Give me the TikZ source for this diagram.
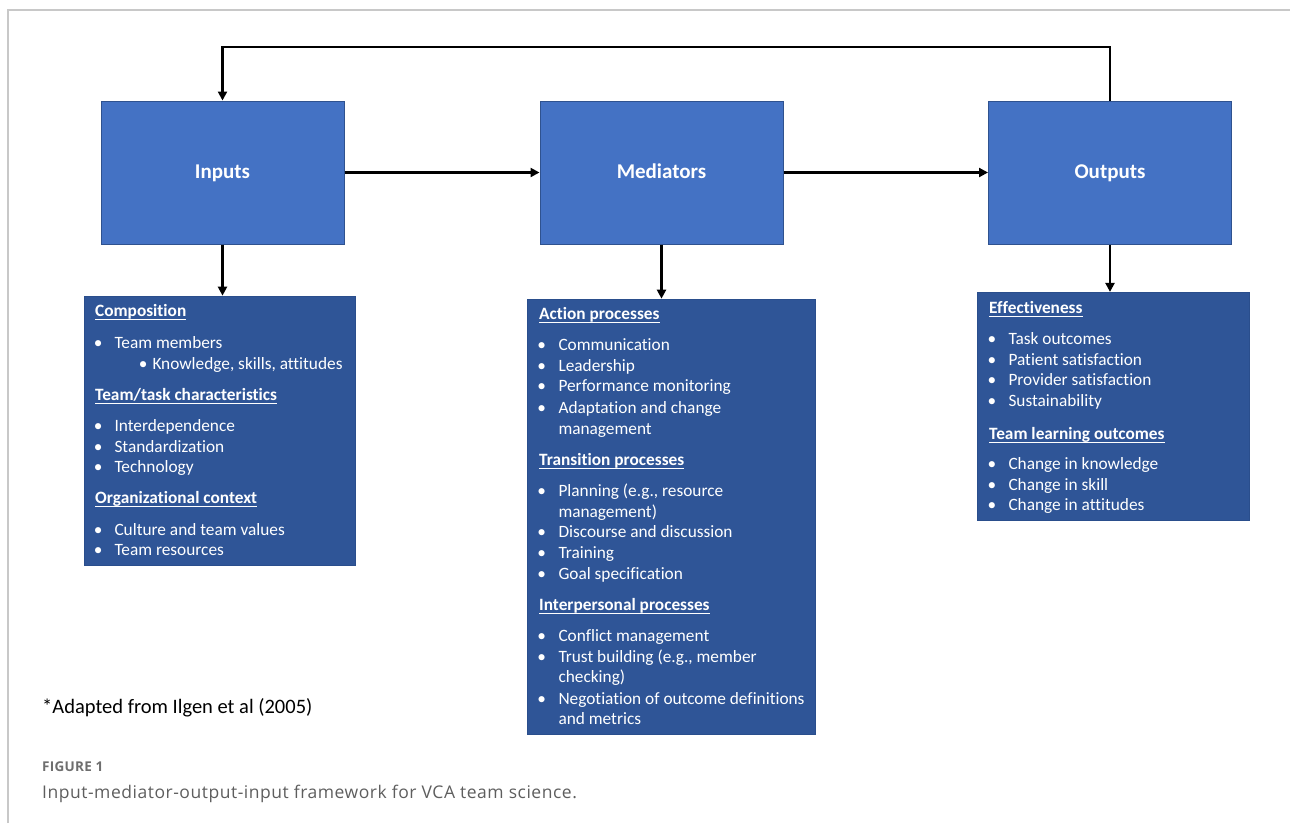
\documentclass[tikz,border=0pt]{standalone}
\usepackage{fontspec}
\setmainfont{Carlito}[Ligatures=NoCommon]
\newfontfamily\capfont{Open Sans}[LetterSpace=3]
\newfontfamily\figfont{Open Sans}[LetterSpace=2]
\usetikzlibrary{arrows.meta}
\definecolor{topblue}{HTML}{4472C4}
\definecolor{topedge}{HTML}{2F528F}
\definecolor{listblue}{HTML}{2F5597}
\definecolor{listedge}{HTML}{2A4E8C}
\definecolor{frameg}{HTML}{C8C8C8}
\definecolor{figg}{HTML}{6E6E6E}
\definecolor{capg}{HTML}{5E5E5E}
\newcommand\ulhd[1]{\setbox0\hbox{#1}\rlap{\rule[-3.5pt]{\wd0}{1pt}}\box0}
\tikzset{
  topbox/.style={fill=topblue, draw=topedge, line width=1pt, minimum width=243pt,
    minimum height=143pt, inner sep=0pt, text=white, text height=11.6pt, text depth=0pt,
    font=\fontsize{21}{24}\selectfont\bfseries},
  listbox/.style={fill=listblue, draw=listedge, line width=0.8pt, inner sep=0pt},
  arr/.style={line width=2.2pt, -{Triangle[length=9pt,width=9pt]}},
  hd/.style={anchor=base west, inner sep=0pt, text=white,
    font=\fontsize{17.3}{20.7}\selectfont\bfseries},
  itm/.style={anchor=base west, inner sep=0pt, text=white, align=left,
    font=\fontsize{17.3}{20.7}\selectfont},
  bul/.style={anchor=base, inner sep=0pt, text=white,
    font=\fontsize{17.3}{20.7}\selectfont},
}
\newcommand\li[5]{\node[bul] (#1b) at (#2,#4) {\textbullet}; \node[itm] (#1) at (#3,#4) {#5};}
\newcommand\lii[5]{\node[bul] (#1b) at (#2,#4) {\textbullet}; \node[itm] (#1) at (#3,#4+20.7) {#5};}
\begin{document}
\begin{tikzpicture}[x=1pt,y=-1pt]
\useasboundingbox (0,0) rectangle (1290,823);
% frame
\draw[frameg, line width=1.2pt] (8,823) -- (8,10) -- (1290,10);

% top boxes
\node[topbox] (inp) at (222.5,172.5) {Inputs};
\node[topbox] (med) at (661.5,172.5) {Mediators};
\node[topbox] (outp) at (1110,172.5) {Outputs};

% list boxes
\node[listbox, minimum width=271.3pt, minimum height=269.3pt] (inlist) at (219.7,430.7) {};
\node[listbox, minimum width=288pt, minimum height=435.3pt] (medlist) at (671.3,516.7) {};
\node[listbox, minimum width=272pt, minimum height=228.4pt] (outlist) at (1113.3,406.5) {};

% connectors
\coordinate (fb) at (0,47);
\draw[arr] (inp.east) -- (med.west);
\draw[arr] (med.east) -- (outp.west);
\draw[arr] (inp.south) -- (inp.south |- inlist.north);
\draw[arr] (med.south) -- (med.south |- medlist.north);
\draw[arr] (outp.south) -- (outp.south |- outlist.north);
\draw[arr] (outp.north) -- (outp.north |- fb) -- (inp.north |- fb) -- (inp.north);

% Inputs list
\node[hd] (ih1) at (95,316.7) {\ulhd{Composition}};
\li{i1}{98.3}{114.3}{348}{Team members}
\li{i2}{143.3}{152.3}{369}{Knowledge, skills, attitudes}
\node[hd] (ih2) at (95,400) {\ulhd{Team/task characteristics}};
\li{i3}{98.3}{114.3}{431.7}{Interdependence}
\li{i4}{98.3}{114.3}{452.3}{Standardization}
\li{i5}{98.3}{114.3}{472.7}{Technology}
\node[hd] (ih3) at (95,503.3) {\ulhd{Organizational context}};
\li{i6}{98.3}{114.3}{535}{Culture and team values}
\li{i7}{98.3}{114.3}{555.7}{Team resources}

% Mediators list
\node[hd] (mh1) at (539,319.3) {\ulhd{Action processes}};
\li{m1}{541.7}{558.3}{350.7}{Communication}
\li{m2}{541.7}{558.3}{371}{Leadership}
\li{m3}{541.7}{558.3}{391.7}{Performance monitoring}
\lii{m4}{541.7}{558.3}{413.3}{Adaptation and change\\management}
\node[hd] (mh2) at (539,465) {\ulhd{Transition processes}};
\lii{m5}{541.7}{558.3}{496.7}{Planning (e.g., resource\\management)}
\li{m6}{541.7}{558.3}{537.7}{Discourse and discussion}
\li{m7}{541.7}{558.3}{558.7}{Training}
\li{m8}{541.7}{558.3}{579.3}{Goal specification}
\node[hd] (mh3) at (539,610) {\ulhd{Interpersonal processes}};
\li{m9}{541.7}{558.3}{641}{Conflict management}
\lii{m10}{541.7}{558.3}{662}{Trust building (e.g., member\\checking)}
\lii{m11}{541.7}{558.3}{704}{Negotiation of outcome definitions\\and metrics}

% Outputs list
\node[hd] (oh1) at (989,313.3) {\ulhd{Effectiveness}};
\li{o1}{992}{1008.3}{344.3}{Task outcomes}
\li{o2}{992}{1008.3}{365}{Patient satisfaction}
\li{o3}{992}{1008.3}{385.7}{Provider satisfaction}
\li{o4}{992}{1008.3}{406.7}{Sustainability}
\node[hd] (oh2) at (989,439.3) {\ulhd{Team learning outcomes}};
\li{o5}{992}{1008.3}{469.3}{Change in knowledge}
\li{o6}{992}{1008.3}{490}{Change in skill}
\li{o7}{992}{1008.3}{510}{Change in attitudes}

% note and caption
\node[anchor=base west, inner sep=0pt, font=\fontsize{20.5}{24}\selectfont] (note) at (42,713) {*Adapted from Ilgen et al (2005)};
\node[anchor=base west, inner sep=0pt, text=figg, font=\figfont\fontsize{13.5}{16}\selectfont\bfseries] (fig) at (42,771.7) {FIGURE 1};
\node[anchor=base west, inner sep=0pt, text=capg, font=\capfont\fontsize{17.5}{20}\selectfont] (cap) at (42,798.3) {Input-mediator-output-input framework for VCA team science.};
\end{tikzpicture}
\end{document}
